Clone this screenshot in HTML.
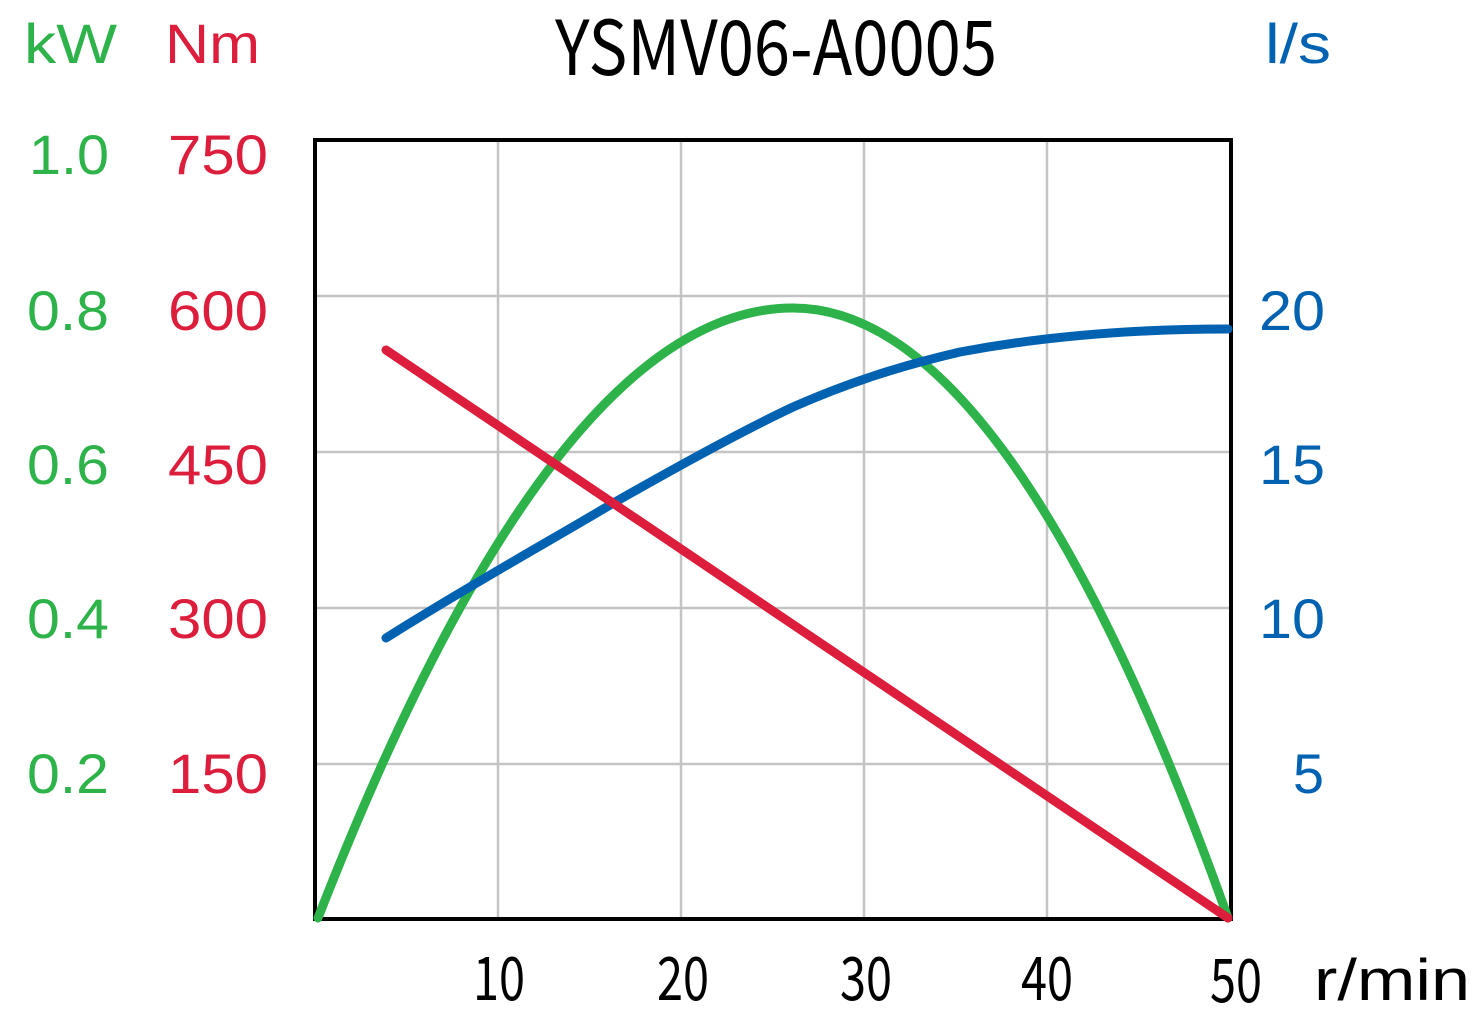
<!DOCTYPE html>
<html><head><meta charset="utf-8"><style>html,body{margin:0;padding:0;background:#fff}</style></head>
<body>
<svg width="1482" height="1012" viewBox="0 0 1482 1012" xmlns="http://www.w3.org/2000/svg">
<g stroke="#c4c4c4" stroke-width="2.5">
<line x1="498" y1="140" x2="498" y2="919"/><line x1="681" y1="140" x2="681" y2="919"/>
<line x1="864" y1="140" x2="864" y2="919"/><line x1="1047" y1="140" x2="1047" y2="919"/>
<line x1="315" y1="296" x2="1231" y2="296"/><line x1="315" y1="452" x2="1231" y2="452"/>
<line x1="315" y1="608" x2="1231" y2="608"/><line x1="315" y1="764" x2="1231" y2="764"/>
</g>
<rect x="315" y="140" width="916" height="779" fill="none" stroke="#000" stroke-width="4"/>
<path d="M318,918 Q555.5,308 793,308 Q1010.5,308 1228,918" fill="none" stroke="#2db34a" stroke-width="9" stroke-linecap="round"/>
<path d="M386,638 C470,585 560,535 610,505 C680,465 740,432 793,407 C850,382 900,366 960,352 C1040,337 1130,329 1228,329" fill="none" stroke="#0062b1" stroke-width="9" stroke-linecap="round"/>
<line x1="386" y1="350" x2="1228" y2="918" stroke="#dc1e3c" stroke-width="9" stroke-linecap="round"/>
<g font-family="'Liberation Sans', sans-serif" font-size="56" lengthAdjust="spacingAndGlyphs">
<g fill="#2db34a"><text x="24" y="63" textLength="93" lengthAdjust="spacingAndGlyphs">kW</text>
<text x="29" y="174" textLength="80" lengthAdjust="spacingAndGlyphs">1.0</text><text x="27" y="330" textLength="82" lengthAdjust="spacingAndGlyphs">0.8</text><text x="27" y="484" textLength="82" lengthAdjust="spacingAndGlyphs">0.6</text><text x="27" y="638" textLength="82" lengthAdjust="spacingAndGlyphs">0.4</text><text x="27" y="793" textLength="82" lengthAdjust="spacingAndGlyphs">0.2</text></g>
<g fill="#dc1e3c"><text x="165" y="63" textLength="95" lengthAdjust="spacingAndGlyphs">Nm</text>
<text x="168" y="174" textLength="100" lengthAdjust="spacingAndGlyphs">750</text><text x="168" y="330" textLength="100" lengthAdjust="spacingAndGlyphs">600</text><text x="168" y="484" textLength="100" lengthAdjust="spacingAndGlyphs">450</text><text x="168" y="638" textLength="100" lengthAdjust="spacingAndGlyphs">300</text><text x="168" y="793" textLength="100" lengthAdjust="spacingAndGlyphs">150</text></g>
<g fill="#0062b1"><text x="1265" y="63" textLength="66" lengthAdjust="spacingAndGlyphs">l/s</text>
<text x="1259" y="330" textLength="66" lengthAdjust="spacingAndGlyphs">20</text><text x="1259" y="484" textLength="66" lengthAdjust="spacingAndGlyphs">15</text><text x="1259" y="638" textLength="66" lengthAdjust="spacingAndGlyphs">10</text><text x="1293" y="793" textLength="31" lengthAdjust="spacingAndGlyphs">5</text></g>
</g>
<text x="555" y="75" font-family="'WenQuanYi Zen Hei', 'Noto Sans CJK SC', monospace" font-size="76" textLength="442" lengthAdjust="spacingAndGlyphs" fill="#000">YSMV06-A0005</text>
<g font-family="'WenQuanYi Zen Hei', 'Noto Sans CJK SC', sans-serif" font-size="60" fill="#000">
<text x="473" y="1000" textLength="52" lengthAdjust="spacingAndGlyphs">10</text>
<text x="657" y="1000" textLength="52" lengthAdjust="spacingAndGlyphs">20</text>
<text x="840" y="1000" textLength="52" lengthAdjust="spacingAndGlyphs">30</text>
<text x="1021" y="1000" textLength="52" lengthAdjust="spacingAndGlyphs">40</text>
<text x="1210" y="1002" textLength="52" lengthAdjust="spacingAndGlyphs">50</text>
</g>
<text x="1314" y="1000" font-family="'Liberation Sans', sans-serif" font-size="58" fill="#000" textLength="156" lengthAdjust="spacingAndGlyphs">r/min</text>
</svg>
</body></html>
